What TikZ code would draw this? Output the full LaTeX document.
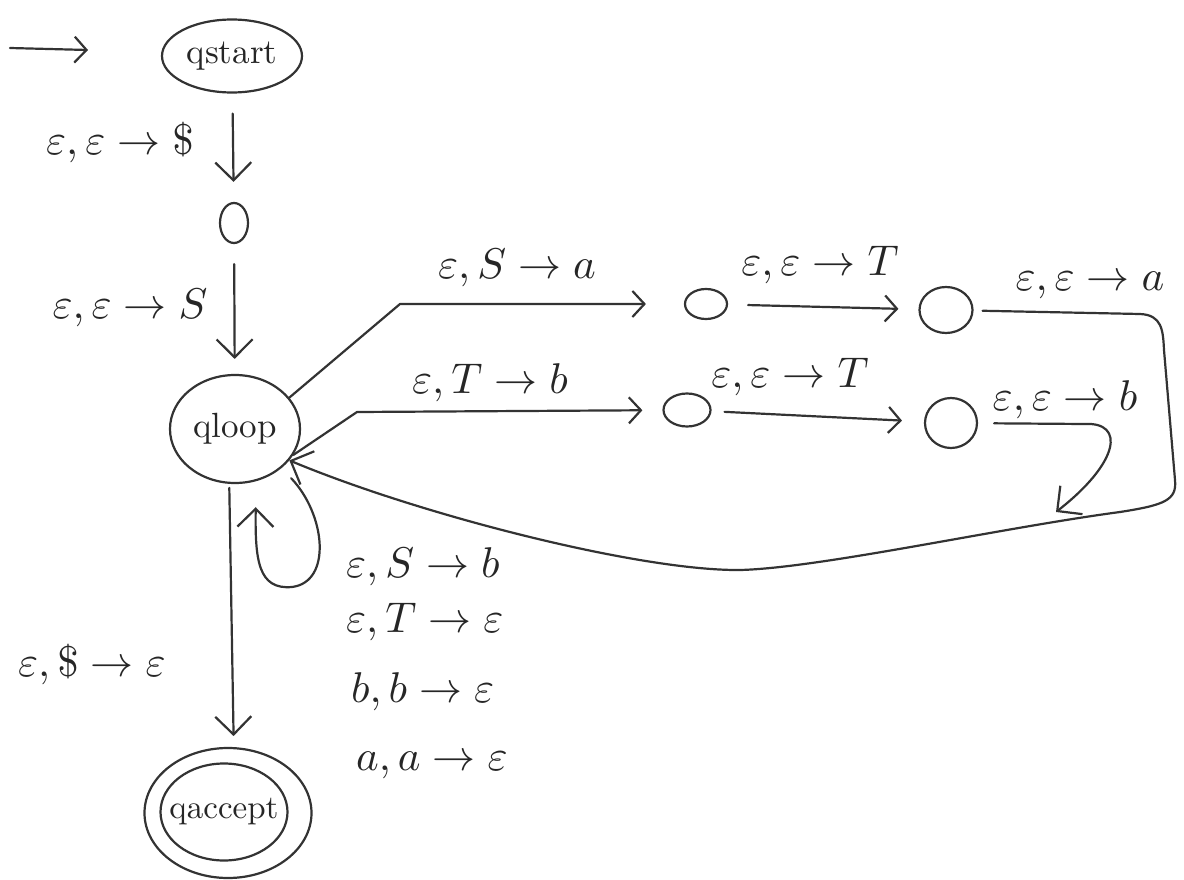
\documentclass[tikz,border=0pt]{standalone}
\usepackage{graphicx}
\usetikzlibrary{arrows.meta,shapes.geometric}
\newcommand{\tl}[1]{\scalebox{4.3}{$#1$}}
\newcommand{\sn}[1]{\scalebox{3.5}{#1}}
\begin{document}
\begin{tikzpicture}[x=1pt,y=-1pt,
  ink/.style={draw=black!80, line width=2.2pt, line cap=round, line join=round},
  arr/.style={ink, -{Straight Barb[length=18pt,width=36pt]}},
  sarr/.style={ink, -{Straight Barb[length=12pt,width=26pt]}},
  state/.style={ink, ellipse, inner sep=0pt, text=black!85},
  lab/.style={text=black!85, inner sep=1pt},
]
\useasboundingbox (0,0) rectangle (1184,880);

% states
\node[state, minimum width=140pt, minimum height=73pt] (qs) at (232,56) {\sn{qstart}};
\node[state, minimum width=28pt, minimum height=40pt] (s1) at (234,223) {};
\node[state, minimum width=130pt, minimum height=108pt] (ql) at (235,429) {\sn{qloop}};
\node[state, minimum width=42pt, minimum height=30pt] (a1) at (706,304) {};
\node[state, minimum width=53pt, minimum height=46pt] (a2) at (946,310) {};
\node[state, minimum width=47pt, minimum height=33pt] (b1) at (687,410) {};
\node[state, minimum width=52pt, minimum height=50pt] (b2) at (951,423) {};
\node[state, minimum width=167pt, minimum height=130pt] (qa) at (228,813) {};
\node[state, inner xsep=-14pt, minimum width=127pt, minimum height=97pt] (qai) at (224,812) {\scalebox{3.3}{qaccept}};

% start arrow
\coordinate (in0) at (10,48);
\coordinate (in1) at (88,50);
\draw[sarr] (in0) -- (in1);

% vertical chain
\draw[arr, shorten <=20pt, shorten >=20pt] (qs) -- (s1);
\draw[arr, shorten <=20pt, shorten >=15pt] (s1) -- (ql);
\draw[arr, shorten <=4pt, shorten >=11pt] (ql.-96) -- (qa.85);

% upper branch
\coordinate (ka) at (400,304);
\draw[sarr, shorten >=38pt] (ql.30) -- (ka) -- (a1);
\draw[sarr, shorten <=20pt, shorten >=20pt] (a1) -- (a2);

% lower branch
\coordinate (kb) at (357,412);
\draw[sarr, shorten >=20pt] (ql.-24) -- (kb) -- (b1);
\draw[sarr, shorten <=13pt, shorten >=22pt] (b1) -- (b2);

% return path to qloop
\coordinate (r1) at (1140,314);
\coordinate (r2) at (1164,350);
\coordinate (r3) at (1175,480);
\coordinate (r4) at (1120,512);
\coordinate (r5) at (740,570);
\draw[arr, shorten <=9pt] (a2) -- (r1) .. controls (1162,315) and (1163,330) .. (r2) -- (r3)
  .. controls (1177,500) and (1165,505) .. (r4)
  .. controls (1000,528) and (820,568) .. (r5)
  .. controls (640,571) and (420,515) .. (ql.-30);

% b2 branch joining the return path
\coordinate (c1) at (1085,424);
\coordinate (bend) at (1056,512);
\draw[arr, shorten <=16pt] (b2) -- (c1) .. controls (1125,422) and (1120,462) .. (bend);

% self loop
\coordinate (lb) at (292,587);
\draw[arr, shorten <=14pt, shorten >=26pt] (ql.-40) .. controls (326,515) and (332,582) .. (lb)
  .. controls (258,590) and (255,560) .. (ql.-68);

% labels
\node[lab] (l1) at (120,143) {\tl{\varepsilon,\varepsilon\to\$}};
\node[lab] (l2) at (130,308) {\tl{\varepsilon,\varepsilon\to S}};
\node[lab] (l3) at (517,268) {\tl{\varepsilon, S\to a}};
\node[lab] (l4) at (820,265) {\tl{\varepsilon,\varepsilon\to T}};
\node[lab] (l5) at (1090,285) {\tl{\varepsilon,\varepsilon\to a}};
\node[lab] (l6) at (490,383) {\tl{\varepsilon, T\to b}};
\node[lab] (l7) at (790,377) {\tl{\varepsilon,\varepsilon\to T}};
\node[lab] (l8) at (1065,400) {\tl{\varepsilon,\varepsilon\to b}};
\node[lab] (l9) at (92,665) {\tl{\varepsilon,\$\to\varepsilon}};
\node[lab, anchor=west] (m1) at (345,567) {\tl{\varepsilon, S\to b}};
\node[lab, anchor=west] (m2) at (345,622) {\tl{\varepsilon, T\to\varepsilon}};
\node[lab, anchor=west] (m3) at (350,692) {\tl{b,b\to\varepsilon}};
\node[lab, anchor=west] (m4) at (355,765) {\tl{a,a\to\varepsilon}};
\end{tikzpicture}
\end{document}
